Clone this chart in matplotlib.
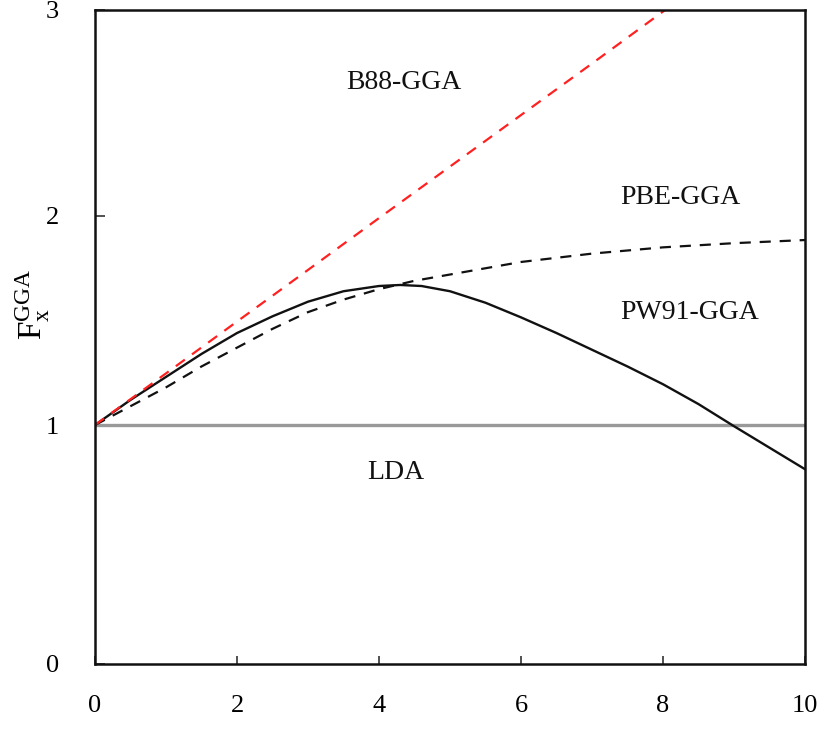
import numpy as np
import matplotlib
matplotlib.use("Agg")
import matplotlib.pyplot as plt

plt.rcParams['font.family'] = ['Liberation Serif', 'DejaVu Serif']
plt.rcParams['mathtext.fontset'] = 'custom'
plt.rcParams['mathtext.rm'] = 'Liberation Serif'
plt.rcParams['mathtext.it'] = 'Liberation Serif'

# B88 enhancement factor (red dashed)
b88_s = [0, 1, 2, 3, 4, 5, 6, 7, 8.03]
b88_f = [1.0, 1.247, 1.495, 1.742, 1.99, 2.24, 2.49, 2.74, 3.0]

# PBE (black dashed)
pbe_s = [0, 0.5, 1, 1.5, 2, 2.5, 3, 3.5, 4, 4.5, 5, 6, 7, 8, 9, 10]
pbe_f = [1.0, 1.09, 1.18, 1.28, 1.37, 1.46, 1.54, 1.60, 1.65, 1.69, 1.72, 1.78, 1.82, 1.85, 1.87, 1.885]

# PW91 (black solid)
pw91_s = [0, 0.5, 1, 1.5, 2, 2.5, 3, 3.5, 4, 4.3, 4.6, 5, 5.5, 6, 6.5, 7, 7.5, 8, 8.5, 9, 9.5, 10]
pw91_f = [1.0, 1.12, 1.23, 1.34, 1.44, 1.52, 1.59, 1.64, 1.665, 1.67, 1.665, 1.64, 1.585, 1.515, 1.44, 1.36, 1.28, 1.195, 1.10, 0.995, 0.905, 0.815]

# LDA (grey)
lda_s = [0, 10]
lda_f = [1.0, 1.0]

labels = ["B88-GGA", "PBE-GGA", "PW91-GGA", "LDA"]
label_x = [4.35, 8.24, 8.38, 4.24]
label_y = [2.65, 2.09, 1.54, 0.80]

# the original's y axis is not evenly spaced; reproduce with a piecewise scale
y_ticks = [0, 1, 2, 3]
y_pos = [0, 239, 448, 654]


def fwd(v):
    return np.interp(v, y_ticks, y_pos, left=-1e3, right=1e3)


def inv(v):
    return np.interp(v, y_pos, y_ticks)


fig = plt.figure(figsize=(8.32, 7.29), dpi=100)
ax = fig.add_axes([95/832, 1-664/729, 710/832, 654/729])
ax.set_yscale('function', functions=(fwd, inv))

ax.plot(lda_s, lda_f, color='#999999', lw=2.4)
ax.plot(pw91_s, pw91_f, color='#111111', lw=1.7)
ax.plot(pbe_s, pbe_f, color='#111111', lw=1.6, dashes=(5, 4))
ax.plot(b88_s, b88_f, color='#ff2020', lw=1.6, dashes=(5, 4))

for t, x, y in zip(labels, label_x, label_y):
    ax.text(x, y, t, fontsize=20, ha='center', va='center', color='#111111')

ax.set_xlim(0, 10)
ax.set_ylim(0, 3)
ax.set_xticks([0, 2, 4, 6, 8, 10])
ax.set_yticks(y_ticks)
ax.tick_params(axis='both', direction='in', labelsize=19, width=1.2, color='#333333')
ax.tick_params(axis='x', length=6, pad=22, top=False)
ax.tick_params(axis='y', length=7, pad=26, right=False)
ax.yaxis.set_minor_locator(matplotlib.ticker.NullLocator())
for sp in ax.spines.values():
    sp.set_linewidth(1.8)
    sp.set_color('#111111')

ax.set_ylabel(r'$\mathrm{F_x^{GGA}}$', fontsize=24)
ax.yaxis.set_label_coords(-0.06, 0.55)

fig.savefig('out.png', dpi=100)
